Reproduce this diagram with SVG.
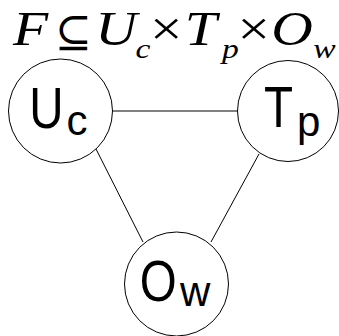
<svg xmlns="http://www.w3.org/2000/svg" width="339" height="336" viewBox="0 0 339 336">
<style>
.node{fill:#fff;stroke:#000;stroke-width:1}
.edge{stroke:#000;stroke-width:1;fill:none}
.lbl{font-family:"Liberation Sans",Arial,sans-serif;fill:#000;font-size:58px}
.sub{font-family:"Liberation Sans",Arial,sans-serif;fill:#000;font-size:42px}
.f{font-family:"Liberation Serif","Times New Roman",serif;font-style:italic;fill:#000;font-size:48px}
.fs{font-size:28px}
.sym{font-family:"DejaVu Serif","Liberation Serif",serif;font-style:normal;font-size:44px;fill:#000}
</style>
<rect width="339" height="336" fill="#fff"/>
<g id="formula">
<text class="f" transform="scale(1.2,1)" y="45"><tspan x="10.8">F</tspan><tspan x="79.3">U</tspan><tspan class="fs" x="113" y="58">c</tspan><tspan class="sym" x="125" y="45" style="font-family:'Liberation Serif',serif;font-size:48px">×</tspan><tspan x="154">T</tspan><tspan class="fs" x="185" y="58">p</tspan><tspan class="sym" x="198" y="45" style="font-family:'Liberation Serif',serif;font-size:48px">×</tspan><tspan x="226">O</tspan><tspan class="fs" x="261" y="58">w</tspan></text>
<text class="sym" x="55" y="47">⊆</text>
</g>
<g id="edges">
<line class="edge" x1="112.5" y1="111" x2="237.5" y2="111"/>
<line class="edge" x1="96" y1="149" x2="143" y2="242"/>
<line class="edge" x1="259" y1="154" x2="211" y2="242"/>
</g>
<g id="Uc"><circle class="node" cx="60.5" cy="111" r="52"/><text class="lbl" transform="scale(0.82,1)" x="35.6" y="128">U</text><text class="sub" x="66.4" y="135">c</text></g>
<g id="Tp"><circle class="node" cx="288" cy="111" r="50.5"/><text class="lbl" transform="scale(0.82,1)" x="321.9" y="127">T</text><text class="sub" x="297" y="136">p</text></g>
<g id="Ow"><circle class="node" cx="176.5" cy="284" r="52"/><text class="lbl" transform="scale(0.82,1)" x="170.4" y="301">O</text><text class="sub" x="180" y="306">w</text></g>
</svg>
